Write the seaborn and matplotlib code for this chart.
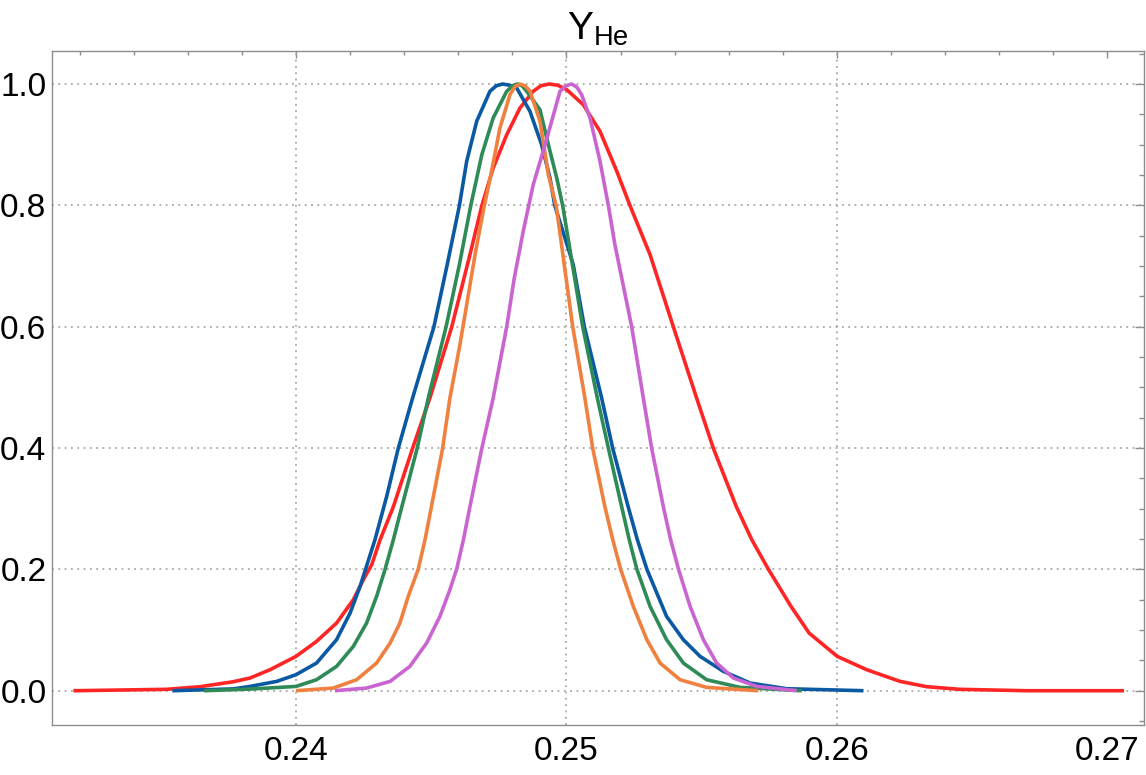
import matplotlib
matplotlib.use("Agg")
import matplotlib.pyplot as plt
from matplotlib.ticker import MultipleLocator
import seaborn as sns

# ---- data (normalised posteriors of Y_He) ----
red_x = [0.23177, 0.23522, 0.23645, 0.23768, 0.2383, 0.23904, 0.24, 0.24076, 0.2415, 0.24212,
         0.24249, 0.2428, 0.24311, 0.2436, 0.24431, 0.24495, 0.24576, 0.24643, 0.24687, 0.24729,
         0.24779, 0.24828, 0.24877, 0.24905, 0.24935, 0.24968, 0.25001, 0.25062, 0.25124, 0.25186,
         0.25235, 0.25309, 0.25395, 0.25481, 0.25543, 0.25628, 0.25685, 0.25746, 0.2583, 0.25897,
         0.26001, 0.2611, 0.26233, 0.26332, 0.26455, 0.26701, 0.27061]
red_y = [0.0, 0.0023, 0.0066, 0.0148, 0.0209, 0.0346, 0.0566, 0.0813, 0.1115, 0.15,
         0.183, 0.2077, 0.2489, 0.3033, 0.3995, 0.4824, 0.6, 0.7186, 0.7994, 0.8615,
         0.9164, 0.9604, 0.988, 0.997, 1.0, 0.998, 0.9906, 0.9659, 0.922, 0.8561,
         0.7994, 0.7186, 0.6, 0.4824, 0.3995, 0.3033, 0.2489, 0.2005, 0.139, 0.095,
         0.0566, 0.0346, 0.0154, 0.0066, 0.0023, 0.0, 0.0]

blue_x = [0.23543, 0.23768, 0.2383, 0.23929, 0.24, 0.24076, 0.2415, 0.242, 0.24237, 0.24292,
          0.24335, 0.24378, 0.24431, 0.2451, 0.24559, 0.24604, 0.24631, 0.24668, 0.24717, 0.2474,
          0.24764, 0.2479, 0.24816, 0.24865, 0.24908, 0.24939, 0.24957, 0.25025, 0.25066, 0.2513,
          0.25171, 0.25228, 0.25262, 0.25297, 0.2537, 0.25432, 0.25494, 0.2558, 0.25679, 0.25814,
          0.26098]
blue_y = [0.0, 0.003, 0.0071, 0.0154, 0.0264, 0.0456, 0.0841, 0.128, 0.172, 0.2489,
          0.3198, 0.3995, 0.4824, 0.6, 0.7022, 0.7994, 0.8726, 0.9385, 0.988, 0.997,
          1.0, 0.998, 0.9934, 0.955, 0.9, 0.8451, 0.7994, 0.7022, 0.6, 0.4824,
          0.3995, 0.3033, 0.2489, 0.2005, 0.1225, 0.0841, 0.0566, 0.0319, 0.0126, 0.0033,
          0.0]

green_x = [0.2366, 0.2383, 0.24, 0.24076, 0.2415, 0.24212, 0.24261, 0.24298, 0.24329, 0.2436,
           0.24385, 0.24448, 0.24489, 0.24555, 0.24604, 0.24646, 0.24687, 0.24729, 0.24779, 0.248,
           0.24818, 0.24836, 0.24853, 0.24902, 0.24933, 0.24964, 0.24986, 0.2506, 0.25114, 0.25155,
           0.25204, 0.25232, 0.2526, 0.25309, 0.2537, 0.25432, 0.25518, 0.25642, 0.2587]
green_y = [0.0, 0.0027, 0.0071, 0.0181, 0.0401, 0.0731, 0.1115, 0.1555, 0.1995, 0.2489,
           0.2924, 0.3995, 0.4824, 0.6, 0.7022, 0.7994, 0.8835, 0.944, 0.988, 0.997,
           1.0, 0.997, 0.988, 0.9576, 0.9, 0.8451, 0.7994, 0.6, 0.4824, 0.3995,
           0.3033, 0.2489, 0.2005, 0.139, 0.0841, 0.0456, 0.0181, 0.0055, 0.0]

orange_x = [0.24, 0.24138, 0.24224, 0.24298, 0.24348, 0.24384, 0.24415, 0.24452, 0.24477, 0.24496,
            0.24542, 0.24569, 0.24606, 0.24631, 0.24662, 0.24692, 0.24723, 0.24754, 0.24791, 0.2481,
            0.24828, 0.24846, 0.24865, 0.24902, 0.24933, 0.24962, 0.25023, 0.25068, 0.25097, 0.25142,
            0.25171, 0.252, 0.25247, 0.25297, 0.25346, 0.2542, 0.25518, 0.25709]
orange_y = [0.0, 0.0044, 0.0181, 0.0456, 0.0786, 0.1115, 0.1555, 0.2005, 0.2489, 0.2924,
            0.3995, 0.4824, 0.5703, 0.6362, 0.7186, 0.7902, 0.8561, 0.9275, 0.9824, 0.996,
            1.0, 0.997, 0.9886, 0.9385, 0.8505, 0.7994, 0.6, 0.4824, 0.3995, 0.3033,
            0.2489, 0.2005, 0.139, 0.0841, 0.0456, 0.0181, 0.0055, 0.0]

purple_x = [0.24144, 0.24261, 0.24348, 0.24421, 0.24483, 0.24532, 0.24569, 0.24594, 0.24619, 0.24643,
            0.24687, 0.24729, 0.24779, 0.24807, 0.2484, 0.24877, 0.24921, 0.24976, 0.24998, 0.25019,
            0.25038, 0.25056, 0.25087, 0.25124, 0.25155, 0.25179, 0.25241, 0.25284, 0.25315, 0.25358,
            0.25385, 0.25414, 0.25457, 0.25506, 0.25555, 0.25617, 0.25703, 0.25851]
purple_y = [0.0, 0.0044, 0.0154, 0.0401, 0.0786, 0.1225, 0.1665, 0.2005, 0.2489, 0.3033,
            0.3995, 0.4824, 0.6, 0.6802, 0.7572, 0.834, 0.9, 0.988, 0.997, 1.0,
            0.995, 0.9824, 0.944, 0.8726, 0.7994, 0.7351, 0.6, 0.4824, 0.3995, 0.3033,
            0.2489, 0.2005, 0.139, 0.0841, 0.0456, 0.0209, 0.0071, 0.0]

x_ticks = [0.24, 0.25, 0.26, 0.27]
x_tick_labels = ["0.24", "0.25", "0.26", "0.27"]
x_grid = [0.24, 0.25, 0.26]
y_ticks = [0.0, 0.2, 0.4, 0.6, 0.8, 1.0]
y_tick_labels = ["0.0", "0.2", "0.4", "0.6", "0.8", "1.0"]
title_text = r"$\mathrm{Y}_{\mathrm{He}}$"

# ---- style ----
sns.set_theme(style="white")
plt.rcParams["font.family"] = ["Liberation Sans", "DejaVu Sans"]
plt.rcParams["mathtext.fontset"] = "custom"
plt.rcParams["mathtext.rm"] = "Liberation Sans"
plt.rcParams["mathtext.it"] = "Liberation Sans:italic"
plt.rcParams["lines.solid_capstyle"] = "butt"
plt.rcParams["lines.solid_joinstyle"] = "round"

fig = plt.figure(figsize=(11.46, 7.75), dpi=100)
fig.patch.set_facecolor("white")
ax = fig.add_axes([52 / 1146, 1 - 725 / 775, (1144 - 52) / 1146, (725 - 50.7) / 775])

series = [
    (red_x, red_y, "#fe2525"),
    (blue_x, blue_y, "#0b58a3"),
    (green_x, green_y, "#2e8a57"),
    (orange_x, orange_y, "#f0803f"),
    (purple_x, purple_y, "#c964d0"),
]
for xs, ys, col in series:
    sns.lineplot(x=xs, y=ys, ax=ax, color=col, linewidth=2.6,
                 estimator=None, sort=False, zorder=3)

ax.set_xlim(0.23098, 0.27135)
ax.set_ylim(-0.0565, 1.0549)

ax.set_xticks(x_ticks)
ax.set_xticklabels(x_tick_labels)
ax.set_yticks(y_ticks)
ax.set_yticklabels(y_tick_labels)
ax.xaxis.set_minor_locator(MultipleLocator(0.002))
ax.yaxis.set_minor_locator(MultipleLocator(0.05))

frame_col = "#8c8c8c"
ax.tick_params(which="both", direction="in", top=True, right=True,
               color=frame_col, width=1.0, labelsize=24, labelcolor="black")
ax.tick_params(axis="x", which="major", length=4.7, pad=8)
ax.tick_params(axis="x", which="minor", length=2.7)
ax.tick_params(axis="y", which="major", length=6.5, pad=4)
ax.tick_params(axis="y", which="minor", length=3.6)

for sp in ax.spines.values():
    sp.set_color(frame_col)
    sp.set_linewidth(1.0)
    sp.set_visible(True)

grid_kw = dict(color="#a8a8a8", linestyle=(0, (1, 2.5)), linewidth=1.3, zorder=1)
ax.grid(False)
for yv in y_ticks:
    ax.axhline(yv, **grid_kw)
for xv in x_grid:
    ax.axvline(xv, **grid_kw)

ax.set_title(title_text, fontsize=28, pad=8, color="black")
ax.set_xlabel("")
ax.set_ylabel("")

fig.savefig("out.png", dpi=100, facecolor="white")
